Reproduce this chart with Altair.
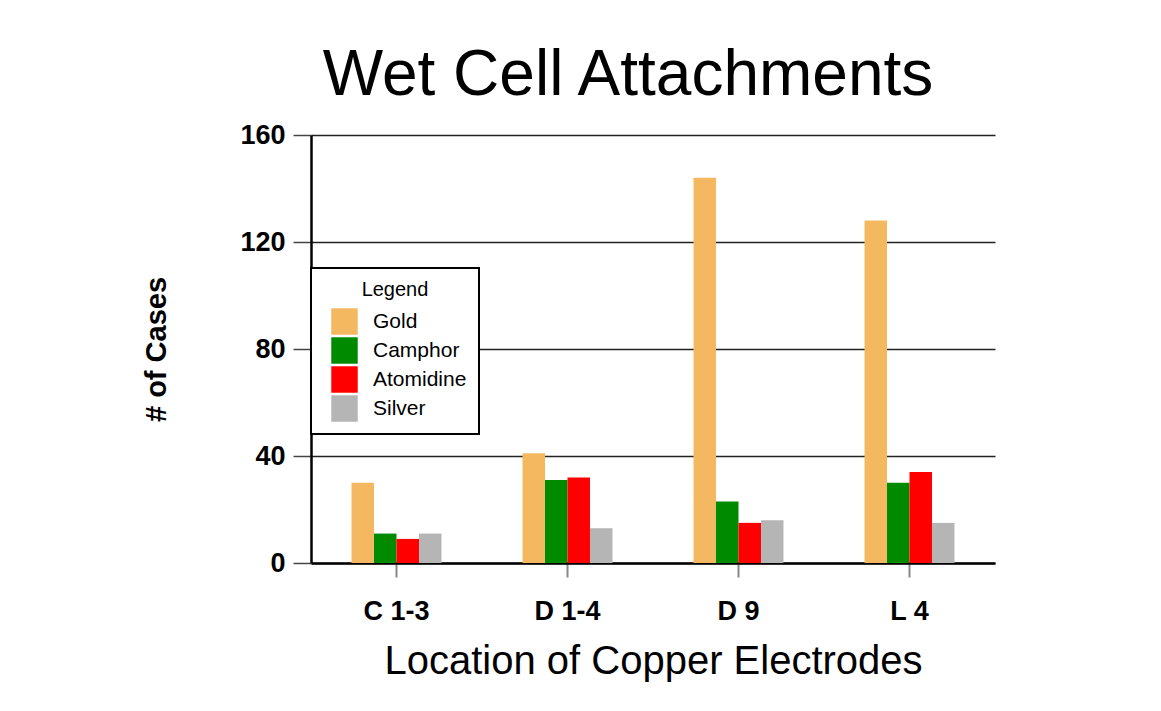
import altair as alt
import pandas as pd

locations = ["C 1-3", "D 1-4", "D 9", "L 4"]
series = ["Gold", "Camphor", "Atomidine", "Silver"]
gold = [30, 41, 144, 128]
camphor = [11, 31, 23, 30]
atomidine = [9, 32, 15, 34]
silver = [11, 13, 16, 15]
colors = ["#F4B960", "#008A00", "#FF0000", "#B5B5B5"]
y_ticks = [0, 40, 80, 120, 160]

rows = []
for s, vals in zip(series, [gold, camphor, atomidine, silver]):
    for loc, v in zip(locations, vals):
        rows.append({"Location": loc, "Treatment": s, "Cases": v})
df = pd.DataFrame(rows)

FONT = "Liberation Sans"

chart = alt.Chart(df).mark_bar().encode(
    x=alt.X(
        "Location:N",
        sort=locations,
        scale=alt.Scale(paddingInner=0.474, paddingOuter=0.237),
        axis=alt.Axis(
            title="Location of Copper Electrodes",
            labelAngle=0,
            labelFont=FONT, labelFontSize=27, labelFontWeight="bold", labelColor="black",
            labelPadding=21,
            tickSize=14, tickColor="#888888", tickWidth=2,
            domainColor="black", domainWidth=2.5,
            titleFont=FONT, titleFontSize=40, titleFontWeight="normal", titleColor="black",
            titlePadding=17,
            grid=False,
        ),
    ),
    xOffset=alt.XOffset("Treatment:N", sort=series, scale=alt.Scale(paddingInner=0, paddingOuter=0)),
    y=alt.Y(
        "Cases:Q",
        scale=alt.Scale(domain=[0, 160], nice=False),
        axis=alt.Axis(
            title="# of Cases",
            values=y_ticks,
            labelFont=FONT, labelFontSize=27, labelFontWeight="bold", labelColor="black",
            labelPadding=8,
            tickSize=18, tickColor="#444444", tickWidth=1.5,
            domainColor="black", domainWidth=2.5,
            grid=True, gridColor="#222222", gridWidth=1.5,
            titleFont=FONT, titleFontSize=29, titleFontWeight="bold", titleColor="black",
            titlePadding=68,
        ),
    ),
    color=alt.Color(
        "Treatment:N",
        sort=series,
        scale=alt.Scale(domain=series, range=colors),
        legend=alt.Legend(
            title="Legend",
            orient="none", legendX=0, legendY=133, direction="vertical",
            fillColor="white", strokeColor="black", padding=12, cornerRadius=0,
            symbolType="square", symbolSize=700, symbolStrokeWidth=0, symbolOffset=8,
            labelOffset=15, rowPadding=2,
            labelFont=FONT, labelFontSize=21, labelColor="black",
            titleFont=FONT, titleFontSize=20, titleFontWeight="normal", titleColor="black",
            titleAnchor="middle", titleAlign="center", titlePadding=8,
        ),
    ),
).properties(
    width=684,
    height=428,
    title=alt.TitleParams(
        "Wet Cell Attachments",
        font=FONT, fontSize=64, fontWeight="normal", color="black",
        anchor="middle", frame="group", dx=-25, offset=13,
    ),
    autosize=alt.AutoSizeParams(type="none"),
    padding={"left": 303, "top": 127, "right": 150, "bottom": 135},
).configure_view(strokeWidth=0).configure_legend(strokeWidth=2)

chart.save("out.html", embed_options={"renderer": "svg", "actions": False})
